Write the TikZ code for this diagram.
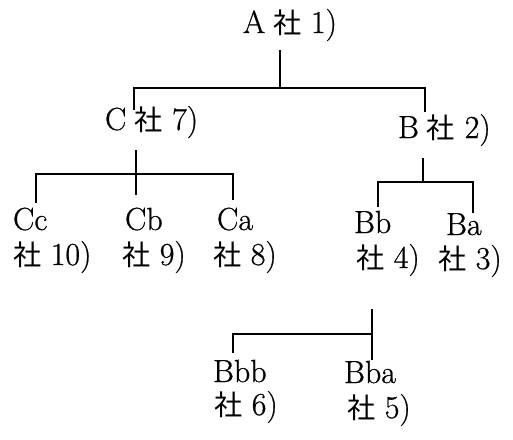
\documentclass[tikz,border=0pt]{standalone}
\usepackage{fontspec}
\setmainfont{Latin Modern Roman}[FakeBold=0.7]
\newfontfamily\jpfont{Noto Sans CJK JP}[Scale=0.88]
\newcommand{\kaisha}[1]{{\jpfont 社}\hspace{.3em}#1}

\begin{document}
\begin{tikzpicture}[x={(0.5pt,0pt)},y={(0pt,-0.5pt)},every node/.style={anchor=base west, inner sep=0pt, outer sep=0pt, font=\fontsize{16}{19}\selectfont},
  branch/.style={line width=1.2pt}]
\useasboundingbox (0,0) rectangle (513,439);

% companies
\node (a)   at (243,33)  {A\hspace{.25em}\kaisha{1)}};
\node (c)   at (105,130) {C\hspace{.25em}\kaisha{7)}};
\node (b)   at (398,138) {B\hspace{.25em}\kaisha{2)}};

\node (cc)  at (13,230)  {Cc};
\node (cb)  at (125,230) {Cb};
\node (ca)  at (217,230) {Ca};
\node (cc-n) at (13,265)  {\kaisha{10)}};
\node (cb-n) at (122,265) {\kaisha{9)}};
\node (ca-n) at (213,265) {\kaisha{8)}};

\node (bb)  at (354,233) {Bb};
\node (ba)  at (446,235) {Ba};
\node (bb-n) at (356,268) {\kaisha{4)}};
\node (ba-n) at (438,269) {\kaisha{3)}};

\node (bbb) at (213,382) {Bbb};
\node (bba) at (344,383) {Bba};
\node (bbb-n) at (214,415) {\kaisha{6)}};
\node (bba-n) at (347,418) {\kaisha{5)}};

% branch points
\coordinate (a-s) at (280,50);
\coordinate (a-j) at (280,88);
\coordinate (a-l) at (134,110);
\coordinate (a-r) at (425,112);

\coordinate (c-s) at (136,150);
\coordinate (c-j) at (136,174);
\coordinate (c-e) at (136,195);
\coordinate (c-l) at (36,203);
\coordinate (c-r) at (233,200);

\coordinate (b-s) at (423,158);
\coordinate (b-j) at (423,182);
\coordinate (b-l) at (378,207);
\coordinate (b-r) at (473,213);

\coordinate (bb-s) at (372,309);
\coordinate (bb-j) at (372,334);
\coordinate (bb-e) at (372,360);
\coordinate (bb-l) at (233,353);

\draw[branch] (a-s) -- (a-j);
\draw[branch] (a-l) |- (a-j) -| (a-r);

\draw[branch] (c-s) -- (c-e);
\draw[branch] (c-l) |- (c-j) -| (c-r);

\draw[branch] (b-s) -- (b-j);
\draw[branch] (b-l) |- (b-j) -| (b-r);

\draw[branch] (bb-s) -- (bb-e);
\draw[branch] (bb-l) |- (bb-j);
\end{tikzpicture}
\end{document}
